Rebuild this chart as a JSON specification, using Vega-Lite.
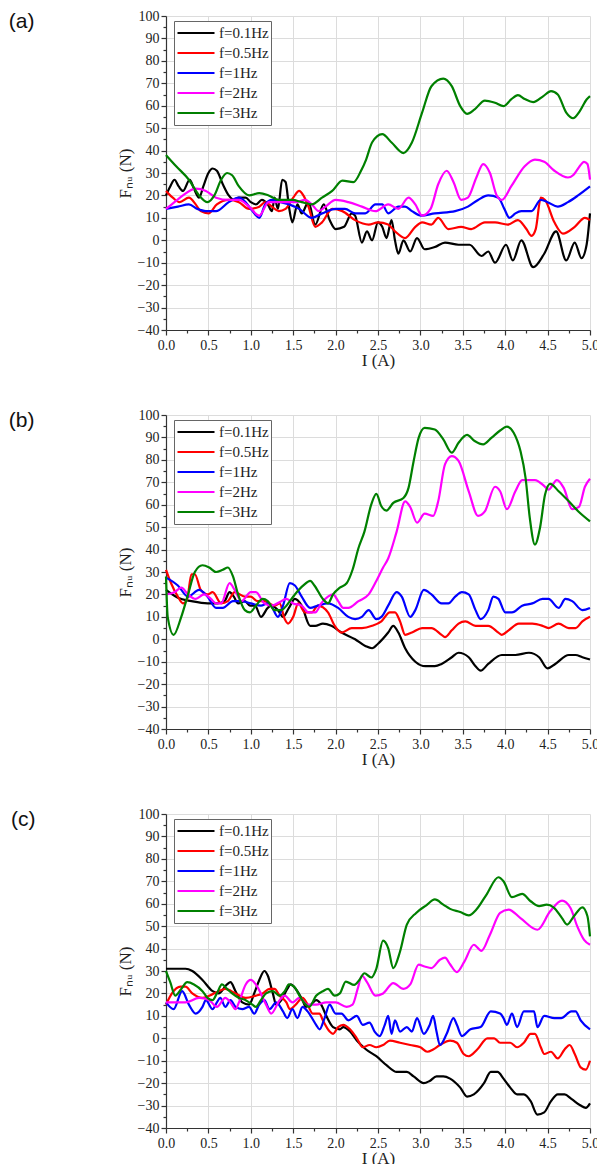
{
"$schema": "https://vega.github.io/schema/vega-lite/v6.json",
"background": "white",
"padding": {"left": 8, "top": 9, "right": 5, "bottom": 3},
"spacing": 40,
"config": {
  "view": {"stroke": null},
  "line": {"strokeWidth": 2.2, "interpolate": "monotone"},
  "axis": {"domainColor": "#333", "tickColor": "#333", "labelColor": "#222", "titleColor": "#222", "labelFont": "Liberation Serif", "titleFont": "Liberation Serif", "labelFontSize": 14, "titleFontSize": 17, "titleFontWeight": "normal", "gridColor": "#dcdcdc", "gridWidth": 1, "domainWidth": 1.2, "tickWidth": 1.2, "labelOverlap": false, "labelFlush": false},
  "legend": {"orient": "none", "legendX": 8, "legendY": 5, "symbolType": "stroke", "symbolSize": 1369, "symbolStrokeWidth": 2, "clipHeight": 20, "labelFont": "Liberation Serif", "labelFontSize": 15, "labelColor": "#222", "labelOffset": 3, "strokeColor": "#666", "padding": 2, "fillColor": "white", "rowPadding": 0, "labelLimit": 200},
  "title": {"font": "Liberation Sans", "fontSize": 21, "fontWeight": "normal", "color": "#111"}
},
"resolve": {"scale": {"color": "independent"}, "legend": {"color": "independent"}},
"datasets": {
"a": [
{"freq":"f=0.1Hz","I":0,"F":20},{"freq":"f=0.1Hz","I":0.05,"F":24},{"freq":"f=0.1Hz","I":0.1,"F":27},{"freq":"f=0.1Hz","I":0.15,"F":24},{"freq":"f=0.1Hz","I":0.2,"F":22},{"freq":"f=0.1Hz","I":0.28,"F":27},{"freq":"f=0.1Hz","I":0.33,"F":23},{"freq":"f=0.1Hz","I":0.39,"F":19},{"freq":"f=0.1Hz","I":0.44,"F":24},{"freq":"f=0.1Hz","I":0.5,"F":30},{"freq":"f=0.1Hz","I":0.55,"F":32},{"freq":"f=0.1Hz","I":0.6,"F":31},{"freq":"f=0.1Hz","I":0.67,"F":25},{"freq":"f=0.1Hz","I":0.74,"F":20},{"freq":"f=0.1Hz","I":0.8,"F":18},{"freq":"f=0.1Hz","I":0.86,"F":19},{"freq":"f=0.1Hz","I":0.94,"F":19},{"freq":"f=0.1Hz","I":1.0,"F":17},{"freq":"f=0.1Hz","I":1.06,"F":16},{"freq":"f=0.1Hz","I":1.13,"F":18},{"freq":"f=0.1Hz","I":1.2,"F":16},{"freq":"f=0.1Hz","I":1.25,"F":13},{"freq":"f=0.1Hz","I":1.28,"F":19},{"freq":"f=0.1Hz","I":1.32,"F":14},{"freq":"f=0.1Hz","I":1.37,"F":27},{"freq":"f=0.1Hz","I":1.41,"F":26},{"freq":"f=0.1Hz","I":1.45,"F":15},{"freq":"f=0.1Hz","I":1.49,"F":8},{"freq":"f=0.1Hz","I":1.55,"F":16},{"freq":"f=0.1Hz","I":1.6,"F":12},{"freq":"f=0.1Hz","I":1.68,"F":17},{"freq":"f=0.1Hz","I":1.76,"F":7},{"freq":"f=0.1Hz","I":1.86,"F":16},{"freq":"f=0.1Hz","I":1.93,"F":9},{"freq":"f=0.1Hz","I":2.0,"F":5},{"freq":"f=0.1Hz","I":2.1,"F":6},{"freq":"f=0.1Hz","I":2.19,"F":12},{"freq":"f=0.1Hz","I":2.23,"F":11},{"freq":"f=0.1Hz","I":2.31,"F":-1},{"freq":"f=0.1Hz","I":2.37,"F":4},{"freq":"f=0.1Hz","I":2.43,"F":0},{"freq":"f=0.1Hz","I":2.5,"F":8},{"freq":"f=0.1Hz","I":2.55,"F":6},{"freq":"f=0.1Hz","I":2.6,"F":1},{"freq":"f=0.1Hz","I":2.66,"F":9},{"freq":"f=0.1Hz","I":2.7,"F":0},{"freq":"f=0.1Hz","I":2.74,"F":-6},{"freq":"f=0.1Hz","I":2.8,"F":0},{"freq":"f=0.1Hz","I":2.88,"F":-5},{"freq":"f=0.1Hz","I":2.96,"F":1},{"freq":"f=0.1Hz","I":3.05,"F":-4},{"freq":"f=0.1Hz","I":3.17,"F":-3},{"freq":"f=0.1Hz","I":3.29,"F":-1},{"freq":"f=0.1Hz","I":3.45,"F":-2},{"freq":"f=0.1Hz","I":3.58,"F":-2},{"freq":"f=0.1Hz","I":3.72,"F":-7},{"freq":"f=0.1Hz","I":3.8,"F":-5},{"freq":"f=0.1Hz","I":3.88,"F":-10},{"freq":"f=0.1Hz","I":4.01,"F":-2},{"freq":"f=0.1Hz","I":4.09,"F":-9},{"freq":"f=0.1Hz","I":4.19,"F":0},{"freq":"f=0.1Hz","I":4.33,"F":-12},{"freq":"f=0.1Hz","I":4.46,"F":-6},{"freq":"f=0.1Hz","I":4.6,"F":4},{"freq":"f=0.1Hz","I":4.72,"F":-9},{"freq":"f=0.1Hz","I":4.82,"F":-1},{"freq":"f=0.1Hz","I":4.9,"F":-8},{"freq":"f=0.1Hz","I":4.96,"F":-2},{"freq":"f=0.1Hz","I":5.0,"F":12},
{"freq":"f=0.5Hz","I":0,"F":22},{"freq":"f=0.5Hz","I":0.08,"F":19},{"freq":"f=0.5Hz","I":0.16,"F":17},{"freq":"f=0.5Hz","I":0.27,"F":19},{"freq":"f=0.5Hz","I":0.35,"F":16},{"freq":"f=0.5Hz","I":0.41,"F":13},{"freq":"f=0.5Hz","I":0.5,"F":12},{"freq":"f=0.5Hz","I":0.6,"F":16},{"freq":"f=0.5Hz","I":0.74,"F":18},{"freq":"f=0.5Hz","I":0.86,"F":17},{"freq":"f=0.5Hz","I":0.98,"F":14},{"freq":"f=0.5Hz","I":1.1,"F":15},{"freq":"f=0.5Hz","I":1.17,"F":17},{"freq":"f=0.5Hz","I":1.25,"F":15},{"freq":"f=0.5Hz","I":1.33,"F":13},{"freq":"f=0.5Hz","I":1.41,"F":14},{"freq":"f=0.5Hz","I":1.5,"F":19},{"freq":"f=0.5Hz","I":1.57,"F":22},{"freq":"f=0.5Hz","I":1.62,"F":20},{"freq":"f=0.5Hz","I":1.68,"F":15},{"freq":"f=0.5Hz","I":1.76,"F":6},{"freq":"f=0.5Hz","I":1.84,"F":8},{"freq":"f=0.5Hz","I":1.96,"F":14},{"freq":"f=0.5Hz","I":2.08,"F":13},{"freq":"f=0.5Hz","I":2.23,"F":9},{"freq":"f=0.5Hz","I":2.39,"F":7},{"freq":"f=0.5Hz","I":2.5,"F":8},{"freq":"f=0.5Hz","I":2.62,"F":7},{"freq":"f=0.5Hz","I":2.7,"F":4},{"freq":"f=0.5Hz","I":2.82,"F":1},{"freq":"f=0.5Hz","I":2.94,"F":6},{"freq":"f=0.5Hz","I":3.02,"F":8},{"freq":"f=0.5Hz","I":3.13,"F":7},{"freq":"f=0.5Hz","I":3.21,"F":10},{"freq":"f=0.5Hz","I":3.33,"F":5},{"freq":"f=0.5Hz","I":3.48,"F":6},{"freq":"f=0.5Hz","I":3.6,"F":5},{"freq":"f=0.5Hz","I":3.76,"F":8},{"freq":"f=0.5Hz","I":3.88,"F":8},{"freq":"f=0.5Hz","I":4.03,"F":7},{"freq":"f=0.5Hz","I":4.15,"F":9},{"freq":"f=0.5Hz","I":4.25,"F":5},{"freq":"f=0.5Hz","I":4.31,"F":2},{"freq":"f=0.5Hz","I":4.36,"F":5},{"freq":"f=0.5Hz","I":4.42,"F":19},{"freq":"f=0.5Hz","I":4.47,"F":18},{"freq":"f=0.5Hz","I":4.58,"F":8},{"freq":"f=0.5Hz","I":4.68,"F":3},{"freq":"f=0.5Hz","I":4.82,"F":6},{"freq":"f=0.5Hz","I":4.94,"F":10},{"freq":"f=0.5Hz","I":5.0,"F":9},
{"freq":"f=1Hz","I":0,"F":14},{"freq":"f=1Hz","I":0.14,"F":15},{"freq":"f=1Hz","I":0.27,"F":16},{"freq":"f=1Hz","I":0.37,"F":14},{"freq":"f=1Hz","I":0.47,"F":13},{"freq":"f=1Hz","I":0.59,"F":13},{"freq":"f=1Hz","I":0.74,"F":17},{"freq":"f=1Hz","I":0.86,"F":19},{"freq":"f=1Hz","I":0.94,"F":17},{"freq":"f=1Hz","I":1.02,"F":13},{"freq":"f=1Hz","I":1.1,"F":10},{"freq":"f=1Hz","I":1.17,"F":16},{"freq":"f=1Hz","I":1.25,"F":18},{"freq":"f=1Hz","I":1.35,"F":17},{"freq":"f=1Hz","I":1.45,"F":16},{"freq":"f=1Hz","I":1.57,"F":14},{"freq":"f=1Hz","I":1.72,"F":10},{"freq":"f=1Hz","I":1.84,"F":12},{"freq":"f=1Hz","I":2.0,"F":14},{"freq":"f=1Hz","I":2.11,"F":14},{"freq":"f=1Hz","I":2.23,"F":12},{"freq":"f=1Hz","I":2.35,"F":12},{"freq":"f=1Hz","I":2.47,"F":16},{"freq":"f=1Hz","I":2.55,"F":16},{"freq":"f=1Hz","I":2.62,"F":12},{"freq":"f=1Hz","I":2.74,"F":15},{"freq":"f=1Hz","I":2.82,"F":15},{"freq":"f=1Hz","I":2.9,"F":13},{"freq":"f=1Hz","I":3.01,"F":11},{"freq":"f=1Hz","I":3.17,"F":12},{"freq":"f=1Hz","I":3.41,"F":13},{"freq":"f=1Hz","I":3.56,"F":15},{"freq":"f=1Hz","I":3.68,"F":18},{"freq":"f=1Hz","I":3.8,"F":20},{"freq":"f=1Hz","I":3.92,"F":19},{"freq":"f=1Hz","I":3.99,"F":14},{"freq":"f=1Hz","I":4.05,"F":10},{"freq":"f=1Hz","I":4.12,"F":12},{"freq":"f=1Hz","I":4.19,"F":13},{"freq":"f=1Hz","I":4.31,"F":13},{"freq":"f=1Hz","I":4.42,"F":18},{"freq":"f=1Hz","I":4.5,"F":17},{"freq":"f=1Hz","I":4.62,"F":15},{"freq":"f=1Hz","I":4.74,"F":17},{"freq":"f=1Hz","I":4.86,"F":20},{"freq":"f=1Hz","I":5.0,"F":24},
{"freq":"f=2Hz","I":0,"F":14},{"freq":"f=2Hz","I":0.1,"F":17},{"freq":"f=2Hz","I":0.2,"F":20},{"freq":"f=2Hz","I":0.35,"F":23},{"freq":"f=2Hz","I":0.47,"F":22},{"freq":"f=2Hz","I":0.59,"F":19},{"freq":"f=2Hz","I":0.74,"F":18},{"freq":"f=2Hz","I":0.86,"F":18},{"freq":"f=2Hz","I":0.98,"F":15},{"freq":"f=2Hz","I":1.1,"F":11},{"freq":"f=2Hz","I":1.21,"F":17},{"freq":"f=2Hz","I":1.37,"F":17},{"freq":"f=2Hz","I":1.53,"F":17},{"freq":"f=2Hz","I":1.64,"F":18},{"freq":"f=2Hz","I":1.72,"F":16},{"freq":"f=2Hz","I":1.8,"F":13},{"freq":"f=2Hz","I":1.88,"F":15},{"freq":"f=2Hz","I":2.0,"F":18},{"freq":"f=2Hz","I":2.15,"F":17},{"freq":"f=2Hz","I":2.31,"F":15},{"freq":"f=2Hz","I":2.47,"F":13},{"freq":"f=2Hz","I":2.62,"F":16},{"freq":"f=2Hz","I":2.74,"F":14},{"freq":"f=2Hz","I":2.86,"F":19},{"freq":"f=2Hz","I":2.94,"F":16},{"freq":"f=2Hz","I":3.02,"F":11},{"freq":"f=2Hz","I":3.12,"F":14},{"freq":"f=2Hz","I":3.21,"F":25},{"freq":"f=2Hz","I":3.31,"F":31},{"freq":"f=2Hz","I":3.39,"F":26},{"freq":"f=2Hz","I":3.48,"F":18},{"freq":"f=2Hz","I":3.56,"F":19},{"freq":"f=2Hz","I":3.66,"F":28},{"freq":"f=2Hz","I":3.74,"F":34},{"freq":"f=2Hz","I":3.82,"F":30},{"freq":"f=2Hz","I":3.9,"F":20},{"freq":"f=2Hz","I":3.96,"F":18},{"freq":"f=2Hz","I":4.07,"F":24},{"freq":"f=2Hz","I":4.23,"F":33},{"freq":"f=2Hz","I":4.35,"F":36},{"freq":"f=2Hz","I":4.46,"F":35},{"freq":"f=2Hz","I":4.58,"F":31},{"freq":"f=2Hz","I":4.74,"F":28},{"freq":"f=2Hz","I":4.8,"F":29},{"freq":"f=2Hz","I":4.86,"F":32},{"freq":"f=2Hz","I":4.93,"F":35},{"freq":"f=2Hz","I":4.97,"F":34},{"freq":"f=2Hz","I":5.0,"F":27},
{"freq":"f=3Hz","I":0,"F":38},{"freq":"f=3Hz","I":0.12,"F":33},{"freq":"f=3Hz","I":0.27,"F":27},{"freq":"f=3Hz","I":0.39,"F":20},{"freq":"f=3Hz","I":0.49,"F":17},{"freq":"f=3Hz","I":0.57,"F":20},{"freq":"f=3Hz","I":0.65,"F":27},{"freq":"f=3Hz","I":0.72,"F":30},{"freq":"f=3Hz","I":0.78,"F":29},{"freq":"f=3Hz","I":0.86,"F":24},{"freq":"f=3Hz","I":0.98,"F":20},{"freq":"f=3Hz","I":1.1,"F":21},{"freq":"f=3Hz","I":1.21,"F":20},{"freq":"f=3Hz","I":1.33,"F":18},{"freq":"f=3Hz","I":1.49,"F":18},{"freq":"f=3Hz","I":1.6,"F":17},{"freq":"f=3Hz","I":1.72,"F":16},{"freq":"f=3Hz","I":1.84,"F":19},{"freq":"f=3Hz","I":1.96,"F":22},{"freq":"f=3Hz","I":2.08,"F":26.6},{"freq":"f=3Hz","I":2.21,"F":25.9},{"freq":"f=3Hz","I":2.3,"F":31},{"freq":"f=3Hz","I":2.36,"F":36},{"freq":"f=3Hz","I":2.43,"F":43.6},{"freq":"f=3Hz","I":2.55,"F":47.3},{"freq":"f=3Hz","I":2.66,"F":43.6},{"freq":"f=3Hz","I":2.8,"F":38.9},{"freq":"f=3Hz","I":2.9,"F":43.6},{"freq":"f=3Hz","I":3.02,"F":56.9},{"freq":"f=3Hz","I":3.13,"F":68.7},{"freq":"f=3Hz","I":3.27,"F":72.1},{"freq":"f=3Hz","I":3.37,"F":68.7},{"freq":"f=3Hz","I":3.47,"F":59.8},{"freq":"f=3Hz","I":3.55,"F":56.4},{"freq":"f=3Hz","I":3.64,"F":58.4},{"freq":"f=3Hz","I":3.76,"F":62.3},{"freq":"f=3Hz","I":3.88,"F":61.3},{"freq":"f=3Hz","I":3.98,"F":59.8},{"freq":"f=3Hz","I":4.07,"F":62.8},{"freq":"f=3Hz","I":4.15,"F":64.7},{"freq":"f=3Hz","I":4.23,"F":63},{"freq":"f=3Hz","I":4.33,"F":61.6},{"freq":"f=3Hz","I":4.45,"F":64.3},{"freq":"f=3Hz","I":4.54,"F":66.5},{"freq":"f=3Hz","I":4.62,"F":65},{"freq":"f=3Hz","I":4.72,"F":56.9},{"freq":"f=3Hz","I":4.8,"F":54.4},{"freq":"f=3Hz","I":4.88,"F":57.6},{"freq":"f=3Hz","I":4.96,"F":62.8},{"freq":"f=3Hz","I":5.0,"F":64.3}
],
"b": [
{"freq":"f=0.1Hz","I":0,"F":22},{"freq":"f=0.1Hz","I":0.14,"F":18.5},{"freq":"f=0.1Hz","I":0.3,"F":17},{"freq":"f=0.1Hz","I":0.49,"F":16},{"freq":"f=0.1Hz","I":0.61,"F":16},{"freq":"f=0.1Hz","I":0.69,"F":17},{"freq":"f=0.1Hz","I":0.75,"F":21},{"freq":"f=0.1Hz","I":0.8,"F":19},{"freq":"f=0.1Hz","I":0.85,"F":16},{"freq":"f=0.1Hz","I":0.93,"F":17},{"freq":"f=0.1Hz","I":0.99,"F":15},{"freq":"f=0.1Hz","I":1.05,"F":15},{"freq":"f=0.1Hz","I":1.12,"F":10},{"freq":"f=0.1Hz","I":1.2,"F":14},{"freq":"f=0.1Hz","I":1.24,"F":15},{"freq":"f=0.1Hz","I":1.32,"F":13},{"freq":"f=0.1Hz","I":1.38,"F":10},{"freq":"f=0.1Hz","I":1.45,"F":14},{"freq":"f=0.1Hz","I":1.52,"F":18},{"freq":"f=0.1Hz","I":1.6,"F":15},{"freq":"f=0.1Hz","I":1.7,"F":6},{"freq":"f=0.1Hz","I":1.76,"F":6},{"freq":"f=0.1Hz","I":1.85,"F":7},{"freq":"f=0.1Hz","I":1.95,"F":6},{"freq":"f=0.1Hz","I":2.07,"F":3},{"freq":"f=0.1Hz","I":2.23,"F":0},{"freq":"f=0.1Hz","I":2.35,"F":-3},{"freq":"f=0.1Hz","I":2.43,"F":-4},{"freq":"f=0.1Hz","I":2.5,"F":-2},{"freq":"f=0.1Hz","I":2.62,"F":3},{"freq":"f=0.1Hz","I":2.68,"F":6},{"freq":"f=0.1Hz","I":2.74,"F":3},{"freq":"f=0.1Hz","I":2.82,"F":-4},{"freq":"f=0.1Hz","I":2.94,"F":-10},{"freq":"f=0.1Hz","I":3.06,"F":-12},{"freq":"f=0.1Hz","I":3.17,"F":-12},{"freq":"f=0.1Hz","I":3.25,"F":-11},{"freq":"f=0.1Hz","I":3.37,"F":-8},{"freq":"f=0.1Hz","I":3.45,"F":-6},{"freq":"f=0.1Hz","I":3.57,"F":-8},{"freq":"f=0.1Hz","I":3.65,"F":-12},{"freq":"f=0.1Hz","I":3.71,"F":-14},{"freq":"f=0.1Hz","I":3.8,"F":-11},{"freq":"f=0.1Hz","I":3.96,"F":-7},{"freq":"f=0.1Hz","I":4.12,"F":-7},{"freq":"f=0.1Hz","I":4.28,"F":-6},{"freq":"f=0.1Hz","I":4.4,"F":-8},{"freq":"f=0.1Hz","I":4.5,"F":-13},{"freq":"f=0.1Hz","I":4.59,"F":-11},{"freq":"f=0.1Hz","I":4.75,"F":-7},{"freq":"f=0.1Hz","I":4.83,"F":-7},{"freq":"f=0.1Hz","I":4.91,"F":-8},{"freq":"f=0.1Hz","I":5.0,"F":-9},
{"freq":"f=0.5Hz","I":0,"F":31},{"freq":"f=0.5Hz","I":0.06,"F":25},{"freq":"f=0.5Hz","I":0.14,"F":19},{"freq":"f=0.5Hz","I":0.2,"F":16},{"freq":"f=0.5Hz","I":0.25,"F":18},{"freq":"f=0.5Hz","I":0.3,"F":29},{"freq":"f=0.5Hz","I":0.34,"F":29},{"freq":"f=0.5Hz","I":0.41,"F":22},{"freq":"f=0.5Hz","I":0.49,"F":20},{"freq":"f=0.5Hz","I":0.55,"F":21},{"freq":"f=0.5Hz","I":0.65,"F":16},{"freq":"f=0.5Hz","I":0.73,"F":17},{"freq":"f=0.5Hz","I":0.81,"F":21},{"freq":"f=0.5Hz","I":0.93,"F":19},{"freq":"f=0.5Hz","I":1.0,"F":19},{"freq":"f=0.5Hz","I":1.08,"F":17},{"freq":"f=0.5Hz","I":1.16,"F":17},{"freq":"f=0.5Hz","I":1.28,"F":15},{"freq":"f=0.5Hz","I":1.34,"F":16},{"freq":"f=0.5Hz","I":1.4,"F":9},{"freq":"f=0.5Hz","I":1.44,"F":7},{"freq":"f=0.5Hz","I":1.5,"F":10},{"freq":"f=0.5Hz","I":1.56,"F":16},{"freq":"f=0.5Hz","I":1.64,"F":12},{"freq":"f=0.5Hz","I":1.72,"F":12},{"freq":"f=0.5Hz","I":1.79,"F":15},{"freq":"f=0.5Hz","I":1.91,"F":12},{"freq":"f=0.5Hz","I":1.99,"F":6},{"freq":"f=0.5Hz","I":2.07,"F":3},{"freq":"f=0.5Hz","I":2.19,"F":5},{"freq":"f=0.5Hz","I":2.31,"F":5},{"freq":"f=0.5Hz","I":2.43,"F":6},{"freq":"f=0.5Hz","I":2.54,"F":8},{"freq":"f=0.5Hz","I":2.64,"F":12},{"freq":"f=0.5Hz","I":2.7,"F":12},{"freq":"f=0.5Hz","I":2.76,"F":8},{"freq":"f=0.5Hz","I":2.82,"F":2},{"freq":"f=0.5Hz","I":2.9,"F":3},{"freq":"f=0.5Hz","I":3.02,"F":5},{"freq":"f=0.5Hz","I":3.13,"F":5},{"freq":"f=0.5Hz","I":3.25,"F":2},{"freq":"f=0.5Hz","I":3.29,"F":1},{"freq":"f=0.5Hz","I":3.37,"F":4},{"freq":"f=0.5Hz","I":3.45,"F":7},{"freq":"f=0.5Hz","I":3.53,"F":8},{"freq":"f=0.5Hz","I":3.65,"F":6},{"freq":"f=0.5Hz","I":3.8,"F":6},{"freq":"f=0.5Hz","I":3.92,"F":3},{"freq":"f=0.5Hz","I":3.96,"F":2},{"freq":"f=0.5Hz","I":4.04,"F":4},{"freq":"f=0.5Hz","I":4.16,"F":7},{"freq":"f=0.5Hz","I":4.32,"F":7},{"freq":"f=0.5Hz","I":4.44,"F":6},{"freq":"f=0.5Hz","I":4.51,"F":5},{"freq":"f=0.5Hz","I":4.63,"F":7},{"freq":"f=0.5Hz","I":4.75,"F":5},{"freq":"f=0.5Hz","I":4.83,"F":5},{"freq":"f=0.5Hz","I":4.91,"F":8},{"freq":"f=0.5Hz","I":5.0,"F":10},
{"freq":"f=1Hz","I":0,"F":27.5},{"freq":"f=1Hz","I":0.14,"F":24},{"freq":"f=1Hz","I":0.26,"F":19},{"freq":"f=1Hz","I":0.39,"F":22},{"freq":"f=1Hz","I":0.49,"F":19},{"freq":"f=1Hz","I":0.59,"F":14},{"freq":"f=1Hz","I":0.67,"F":14},{"freq":"f=1Hz","I":0.79,"F":17},{"freq":"f=1Hz","I":0.89,"F":17},{"freq":"f=1Hz","I":1.0,"F":16},{"freq":"f=1Hz","I":1.12,"F":15},{"freq":"f=1Hz","I":1.2,"F":16},{"freq":"f=1Hz","I":1.24,"F":15},{"freq":"f=1Hz","I":1.32,"F":10},{"freq":"f=1Hz","I":1.38,"F":15},{"freq":"f=1Hz","I":1.46,"F":25},{"freq":"f=1Hz","I":1.52,"F":24},{"freq":"f=1Hz","I":1.6,"F":19},{"freq":"f=1Hz","I":1.7,"F":14},{"freq":"f=1Hz","I":1.79,"F":15},{"freq":"f=1Hz","I":1.91,"F":16},{"freq":"f=1Hz","I":2.03,"F":14},{"freq":"f=1Hz","I":2.15,"F":10},{"freq":"f=1Hz","I":2.23,"F":9},{"freq":"f=1Hz","I":2.31,"F":10},{"freq":"f=1Hz","I":2.39,"F":13},{"freq":"f=1Hz","I":2.48,"F":9},{"freq":"f=1Hz","I":2.54,"F":10},{"freq":"f=1Hz","I":2.62,"F":15},{"freq":"f=1Hz","I":2.72,"F":21},{"freq":"f=1Hz","I":2.78,"F":19},{"freq":"f=1Hz","I":2.88,"F":10},{"freq":"f=1Hz","I":2.94,"F":13},{"freq":"f=1Hz","I":3.04,"F":22},{"freq":"f=1Hz","I":3.13,"F":20},{"freq":"f=1Hz","I":3.25,"F":16},{"freq":"f=1Hz","I":3.33,"F":16},{"freq":"f=1Hz","I":3.41,"F":19},{"freq":"f=1Hz","I":3.49,"F":21},{"freq":"f=1Hz","I":3.57,"F":20},{"freq":"f=1Hz","I":3.65,"F":13},{"freq":"f=1Hz","I":3.71,"F":9},{"freq":"f=1Hz","I":3.8,"F":13},{"freq":"f=1Hz","I":3.86,"F":19},{"freq":"f=1Hz","I":3.92,"F":18},{"freq":"f=1Hz","I":4.0,"F":12},{"freq":"f=1Hz","I":4.08,"F":12},{"freq":"f=1Hz","I":4.2,"F":15},{"freq":"f=1Hz","I":4.32,"F":16},{"freq":"f=1Hz","I":4.44,"F":18},{"freq":"f=1Hz","I":4.51,"F":18},{"freq":"f=1Hz","I":4.63,"F":14},{"freq":"f=1Hz","I":4.71,"F":18},{"freq":"f=1Hz","I":4.79,"F":17},{"freq":"f=1Hz","I":4.91,"F":13},{"freq":"f=1Hz","I":5.0,"F":14},
{"freq":"f=2Hz","I":0,"F":20},{"freq":"f=2Hz","I":0.1,"F":21},{"freq":"f=2Hz","I":0.18,"F":23},{"freq":"f=2Hz","I":0.26,"F":20},{"freq":"f=2Hz","I":0.35,"F":18},{"freq":"f=2Hz","I":0.45,"F":20},{"freq":"f=2Hz","I":0.53,"F":18},{"freq":"f=2Hz","I":0.59,"F":16},{"freq":"f=2Hz","I":0.65,"F":16},{"freq":"f=2Hz","I":0.75,"F":25},{"freq":"f=2Hz","I":0.81,"F":22},{"freq":"f=2Hz","I":0.89,"F":17},{"freq":"f=2Hz","I":1.0,"F":21},{"freq":"f=2Hz","I":1.06,"F":21},{"freq":"f=2Hz","I":1.16,"F":16},{"freq":"f=2Hz","I":1.24,"F":15},{"freq":"f=2Hz","I":1.36,"F":17},{"freq":"f=2Hz","I":1.42,"F":18},{"freq":"f=2Hz","I":1.5,"F":16},{"freq":"f=2Hz","I":1.6,"F":15},{"freq":"f=2Hz","I":1.68,"F":12},{"freq":"f=2Hz","I":1.76,"F":12},{"freq":"f=2Hz","I":1.83,"F":16},{"freq":"f=2Hz","I":1.91,"F":19},{"freq":"f=2Hz","I":1.97,"F":20},{"freq":"f=2Hz","I":2.03,"F":17},{"freq":"f=2Hz","I":2.09,"F":14},{"freq":"f=2Hz","I":2.15,"F":14},{"freq":"f=2Hz","I":2.27,"F":17},{"freq":"f=2Hz","I":2.39,"F":20},{"freq":"f=2Hz","I":2.48,"F":26},{"freq":"f=2Hz","I":2.56,"F":32},{"freq":"f=2Hz","I":2.62,"F":36},{"freq":"f=2Hz","I":2.72,"F":48},{"freq":"f=2Hz","I":2.82,"F":61.5},{"freq":"f=2Hz","I":2.88,"F":59},{"freq":"f=2Hz","I":2.96,"F":52},{"freq":"f=2Hz","I":3.05,"F":56},{"freq":"f=2Hz","I":3.15,"F":55},{"freq":"f=2Hz","I":3.21,"F":61.5},{"freq":"f=2Hz","I":3.29,"F":78},{"freq":"f=2Hz","I":3.37,"F":81.7},{"freq":"f=2Hz","I":3.45,"F":79.5},{"freq":"f=2Hz","I":3.57,"F":66},{"freq":"f=2Hz","I":3.68,"F":55},{"freq":"f=2Hz","I":3.76,"F":57},{"freq":"f=2Hz","I":3.88,"F":68},{"freq":"f=2Hz","I":3.94,"F":66},{"freq":"f=2Hz","I":4.02,"F":58},{"freq":"f=2Hz","I":4.12,"F":66},{"freq":"f=2Hz","I":4.2,"F":71},{"freq":"f=2Hz","I":4.35,"F":71},{"freq":"f=2Hz","I":4.47,"F":68},{"freq":"f=2Hz","I":4.51,"F":66.7},{"freq":"f=2Hz","I":4.61,"F":71},{"freq":"f=2Hz","I":4.69,"F":67.5},{"freq":"f=2Hz","I":4.79,"F":58},{"freq":"f=2Hz","I":4.87,"F":59},{"freq":"f=2Hz","I":4.94,"F":68},{"freq":"f=2Hz","I":5.0,"F":71.6},
{"freq":"f=3Hz","I":0,"F":28},{"freq":"f=3Hz","I":0.02,"F":10},{"freq":"f=3Hz","I":0.09,"F":2},{"freq":"f=3Hz","I":0.18,"F":10},{"freq":"f=3Hz","I":0.26,"F":20},{"freq":"f=3Hz","I":0.34,"F":30},{"freq":"f=3Hz","I":0.43,"F":33},{"freq":"f=3Hz","I":0.51,"F":32},{"freq":"f=3Hz","I":0.59,"F":30},{"freq":"f=3Hz","I":0.67,"F":31},{"freq":"f=3Hz","I":0.73,"F":32},{"freq":"f=3Hz","I":0.79,"F":28},{"freq":"f=3Hz","I":0.85,"F":20},{"freq":"f=3Hz","I":0.93,"F":13},{"freq":"f=3Hz","I":0.99,"F":12},{"freq":"f=3Hz","I":1.06,"F":15},{"freq":"f=3Hz","I":1.14,"F":18},{"freq":"f=3Hz","I":1.2,"F":17},{"freq":"f=3Hz","I":1.28,"F":13},{"freq":"f=3Hz","I":1.36,"F":13},{"freq":"f=3Hz","I":1.42,"F":15},{"freq":"f=3Hz","I":1.52,"F":20},{"freq":"f=3Hz","I":1.62,"F":24},{"freq":"f=3Hz","I":1.7,"F":26},{"freq":"f=3Hz","I":1.75,"F":24},{"freq":"f=3Hz","I":1.85,"F":18},{"freq":"f=3Hz","I":1.91,"F":16},{"freq":"f=3Hz","I":1.97,"F":20},{"freq":"f=3Hz","I":2.05,"F":23},{"freq":"f=3Hz","I":2.13,"F":25},{"freq":"f=3Hz","I":2.2,"F":31},{"freq":"f=3Hz","I":2.27,"F":40.7},{"freq":"f=3Hz","I":2.34,"F":48},{"freq":"f=3Hz","I":2.42,"F":60},{"freq":"f=3Hz","I":2.48,"F":64.8},{"freq":"f=3Hz","I":2.54,"F":59.3},{"freq":"f=3Hz","I":2.6,"F":57.4},{"freq":"f=3Hz","I":2.68,"F":60.8},{"freq":"f=3Hz","I":2.8,"F":63},{"freq":"f=3Hz","I":2.86,"F":67.5},{"freq":"f=3Hz","I":2.92,"F":79.4},{"freq":"f=3Hz","I":2.98,"F":89.9},{"freq":"f=3Hz","I":3.05,"F":94.3},{"freq":"f=3Hz","I":3.17,"F":93.5},{"freq":"f=3Hz","I":3.27,"F":89.1},{"freq":"f=3Hz","I":3.37,"F":83.2},{"freq":"f=3Hz","I":3.45,"F":87.6},{"freq":"f=3Hz","I":3.55,"F":91.1},{"freq":"f=3Hz","I":3.64,"F":88.4},{"freq":"f=3Hz","I":3.74,"F":86.9},{"freq":"f=3Hz","I":3.84,"F":89.9},{"freq":"f=3Hz","I":3.94,"F":93.1},{"freq":"f=3Hz","I":4.02,"F":94.8},{"freq":"f=3Hz","I":4.1,"F":92.1},{"freq":"f=3Hz","I":4.18,"F":83.9},{"freq":"f=3Hz","I":4.24,"F":72},{"freq":"f=3Hz","I":4.29,"F":54.1},{"freq":"f=3Hz","I":4.35,"F":42.2},{"freq":"f=3Hz","I":4.41,"F":49.6},{"freq":"f=3Hz","I":4.47,"F":64.5},{"freq":"f=3Hz","I":4.53,"F":69.3},{"freq":"f=3Hz","I":4.63,"F":66},{"freq":"f=3Hz","I":4.75,"F":61.5},{"freq":"f=3Hz","I":4.86,"F":57.1},{"freq":"f=3Hz","I":5.0,"F":52.6}
],
"c": [
{"freq":"f=0.1Hz","I":0,"F":31},{"freq":"f=0.1Hz","I":0.12,"F":31},{"freq":"f=0.1Hz","I":0.23,"F":31},{"freq":"f=0.1Hz","I":0.31,"F":30},{"freq":"f=0.1Hz","I":0.43,"F":26},{"freq":"f=0.1Hz","I":0.55,"F":21},{"freq":"f=0.1Hz","I":0.62,"F":20},{"freq":"f=0.1Hz","I":0.72,"F":24},{"freq":"f=0.1Hz","I":0.76,"F":25},{"freq":"f=0.1Hz","I":0.82,"F":21},{"freq":"f=0.1Hz","I":0.9,"F":16},{"freq":"f=0.1Hz","I":0.98,"F":15},{"freq":"f=0.1Hz","I":1.04,"F":20},{"freq":"f=0.1Hz","I":1.1,"F":26},{"freq":"f=0.1Hz","I":1.16,"F":30},{"freq":"f=0.1Hz","I":1.2,"F":28},{"freq":"f=0.1Hz","I":1.26,"F":20},{"freq":"f=0.1Hz","I":1.3,"F":15},{"freq":"f=0.1Hz","I":1.36,"F":17},{"freq":"f=0.1Hz","I":1.43,"F":22},{"freq":"f=0.1Hz","I":1.47,"F":24},{"freq":"f=0.1Hz","I":1.53,"F":22},{"freq":"f=0.1Hz","I":1.61,"F":17},{"freq":"f=0.1Hz","I":1.65,"F":14},{"freq":"f=0.1Hz","I":1.71,"F":15},{"freq":"f=0.1Hz","I":1.77,"F":17},{"freq":"f=0.1Hz","I":1.83,"F":15},{"freq":"f=0.1Hz","I":1.89,"F":10},{"freq":"f=0.1Hz","I":1.97,"F":5},{"freq":"f=0.1Hz","I":2.05,"F":4},{"freq":"f=0.1Hz","I":2.09,"F":5},{"freq":"f=0.1Hz","I":2.17,"F":3},{"freq":"f=0.1Hz","I":2.25,"F":-1},{"freq":"f=0.1Hz","I":2.36,"F":-5},{"freq":"f=0.1Hz","I":2.48,"F":-8},{"freq":"f=0.1Hz","I":2.6,"F":-12},{"freq":"f=0.1Hz","I":2.72,"F":-15},{"freq":"f=0.1Hz","I":2.84,"F":-15},{"freq":"f=0.1Hz","I":2.92,"F":-17},{"freq":"f=0.1Hz","I":3.04,"F":-20},{"freq":"f=0.1Hz","I":3.11,"F":-19},{"freq":"f=0.1Hz","I":3.19,"F":-17},{"freq":"f=0.1Hz","I":3.27,"F":-17},{"freq":"f=0.1Hz","I":3.35,"F":-18},{"freq":"f=0.1Hz","I":3.47,"F":-22},{"freq":"f=0.1Hz","I":3.55,"F":-26},{"freq":"f=0.1Hz","I":3.63,"F":-25},{"freq":"f=0.1Hz","I":3.75,"F":-20},{"freq":"f=0.1Hz","I":3.83,"F":-15},{"freq":"f=0.1Hz","I":3.91,"F":-15},{"freq":"f=0.1Hz","I":3.98,"F":-18},{"freq":"f=0.1Hz","I":4.06,"F":-22},{"freq":"f=0.1Hz","I":4.14,"F":-25},{"freq":"f=0.1Hz","I":4.22,"F":-25},{"freq":"f=0.1Hz","I":4.3,"F":-28},{"freq":"f=0.1Hz","I":4.38,"F":-34},{"freq":"f=0.1Hz","I":4.46,"F":-33},{"freq":"f=0.1Hz","I":4.54,"F":-28},{"freq":"f=0.1Hz","I":4.62,"F":-25},{"freq":"f=0.1Hz","I":4.7,"F":-25},{"freq":"f=0.1Hz","I":4.78,"F":-27},{"freq":"f=0.1Hz","I":4.89,"F":-30},{"freq":"f=0.1Hz","I":4.95,"F":-31},{"freq":"f=0.1Hz","I":5.0,"F":-29},
{"freq":"f=0.5Hz","I":0,"F":15},{"freq":"f=0.5Hz","I":0.07,"F":20},{"freq":"f=0.5Hz","I":0.17,"F":23},{"freq":"f=0.5Hz","I":0.23,"F":23},{"freq":"f=0.5Hz","I":0.31,"F":20},{"freq":"f=0.5Hz","I":0.43,"F":18},{"freq":"f=0.5Hz","I":0.51,"F":19},{"freq":"f=0.5Hz","I":0.62,"F":21},{"freq":"f=0.5Hz","I":0.7,"F":22},{"freq":"f=0.5Hz","I":0.82,"F":20},{"freq":"f=0.5Hz","I":0.94,"F":18},{"freq":"f=0.5Hz","I":1.06,"F":19},{"freq":"f=0.5Hz","I":1.14,"F":20},{"freq":"f=0.5Hz","I":1.22,"F":22},{"freq":"f=0.5Hz","I":1.28,"F":22},{"freq":"f=0.5Hz","I":1.34,"F":19},{"freq":"f=0.5Hz","I":1.42,"F":16},{"freq":"f=0.5Hz","I":1.46,"F":13},{"freq":"f=0.5Hz","I":1.53,"F":15},{"freq":"f=0.5Hz","I":1.61,"F":18},{"freq":"f=0.5Hz","I":1.67,"F":15},{"freq":"f=0.5Hz","I":1.73,"F":11},{"freq":"f=0.5Hz","I":1.81,"F":11},{"freq":"f=0.5Hz","I":1.85,"F":8},{"freq":"f=0.5Hz","I":1.93,"F":3},{"freq":"f=0.5Hz","I":1.97,"F":2},{"freq":"f=0.5Hz","I":2.03,"F":5},{"freq":"f=0.5Hz","I":2.09,"F":6},{"freq":"f=0.5Hz","I":2.17,"F":4},{"freq":"f=0.5Hz","I":2.25,"F":0},{"freq":"f=0.5Hz","I":2.32,"F":-4},{"freq":"f=0.5Hz","I":2.4,"F":-3},{"freq":"f=0.5Hz","I":2.48,"F":-4},{"freq":"f=0.5Hz","I":2.56,"F":-3},{"freq":"f=0.5Hz","I":2.64,"F":-1},{"freq":"f=0.5Hz","I":2.76,"F":-2},{"freq":"f=0.5Hz","I":2.88,"F":-3},{"freq":"f=0.5Hz","I":3.0,"F":-4},{"freq":"f=0.5Hz","I":3.08,"F":-6},{"freq":"f=0.5Hz","I":3.15,"F":-5},{"freq":"f=0.5Hz","I":3.23,"F":-3},{"freq":"f=0.5Hz","I":3.35,"F":-1},{"freq":"f=0.5Hz","I":3.43,"F":-2},{"freq":"f=0.5Hz","I":3.51,"F":-7},{"freq":"f=0.5Hz","I":3.57,"F":-8},{"freq":"f=0.5Hz","I":3.67,"F":-5},{"freq":"f=0.5Hz","I":3.79,"F":0},{"freq":"f=0.5Hz","I":3.87,"F":0},{"freq":"f=0.5Hz","I":3.94,"F":-2},{"freq":"f=0.5Hz","I":4.06,"F":-2},{"freq":"f=0.5Hz","I":4.14,"F":-4},{"freq":"f=0.5Hz","I":4.22,"F":-2},{"freq":"f=0.5Hz","I":4.3,"F":2},{"freq":"f=0.5Hz","I":4.35,"F":2},{"freq":"f=0.5Hz","I":4.42,"F":-4},{"freq":"f=0.5Hz","I":4.46,"F":-7},{"freq":"f=0.5Hz","I":4.54,"F":-6},{"freq":"f=0.5Hz","I":4.62,"F":-9},{"freq":"f=0.5Hz","I":4.7,"F":-5},{"freq":"f=0.5Hz","I":4.76,"F":-3},{"freq":"f=0.5Hz","I":4.82,"F":-7},{"freq":"f=0.5Hz","I":4.89,"F":-13},{"freq":"f=0.5Hz","I":4.95,"F":-14},{"freq":"f=0.5Hz","I":5.0,"F":-10},
{"freq":"f=1Hz","I":0,"F":16},{"freq":"f=1Hz","I":0.09,"F":13},{"freq":"f=1Hz","I":0.19,"F":21},{"freq":"f=1Hz","I":0.27,"F":15},{"freq":"f=1Hz","I":0.35,"F":11},{"freq":"f=1Hz","I":0.43,"F":14},{"freq":"f=1Hz","I":0.47,"F":17},{"freq":"f=1Hz","I":0.55,"F":13},{"freq":"f=1Hz","I":0.6,"F":16},{"freq":"f=1Hz","I":0.64,"F":18},{"freq":"f=1Hz","I":0.7,"F":14},{"freq":"f=1Hz","I":0.76,"F":17},{"freq":"f=1Hz","I":0.82,"F":14},{"freq":"f=1Hz","I":0.9,"F":13},{"freq":"f=1Hz","I":0.98,"F":14},{"freq":"f=1Hz","I":1.04,"F":11},{"freq":"f=1Hz","I":1.1,"F":15},{"freq":"f=1Hz","I":1.16,"F":17},{"freq":"f=1Hz","I":1.22,"F":13},{"freq":"f=1Hz","I":1.3,"F":16},{"freq":"f=1Hz","I":1.38,"F":12},{"freq":"f=1Hz","I":1.43,"F":9},{"freq":"f=1Hz","I":1.49,"F":13},{"freq":"f=1Hz","I":1.55,"F":9},{"freq":"f=1Hz","I":1.61,"F":14},{"freq":"f=1Hz","I":1.67,"F":12},{"freq":"f=1Hz","I":1.77,"F":6},{"freq":"f=1Hz","I":1.81,"F":4},{"freq":"f=1Hz","I":1.87,"F":9},{"freq":"f=1Hz","I":1.93,"F":15},{"freq":"f=1Hz","I":2.0,"F":11},{"freq":"f=1Hz","I":2.07,"F":11},{"freq":"f=1Hz","I":2.15,"F":8},{"freq":"f=1Hz","I":2.25,"F":10},{"freq":"f=1Hz","I":2.32,"F":6},{"freq":"f=1Hz","I":2.4,"F":7},{"freq":"f=1Hz","I":2.46,"F":3},{"freq":"f=1Hz","I":2.52,"F":1},{"freq":"f=1Hz","I":2.58,"F":6},{"freq":"f=1Hz","I":2.62,"F":10},{"freq":"f=1Hz","I":2.66,"F":2},{"freq":"f=1Hz","I":2.7,"F":8},{"freq":"f=1Hz","I":2.76,"F":3},{"freq":"f=1Hz","I":2.84,"F":5},{"freq":"f=1Hz","I":2.9,"F":3},{"freq":"f=1Hz","I":2.96,"F":9},{"freq":"f=1Hz","I":3.04,"F":2},{"freq":"f=1Hz","I":3.11,"F":6},{"freq":"f=1Hz","I":3.15,"F":10},{"freq":"f=1Hz","I":3.19,"F":3},{"freq":"f=1Hz","I":3.23,"F":-3},{"freq":"f=1Hz","I":3.31,"F":2},{"freq":"f=1Hz","I":3.39,"F":9},{"freq":"f=1Hz","I":3.43,"F":6},{"freq":"f=1Hz","I":3.49,"F":1},{"freq":"f=1Hz","I":3.59,"F":4},{"freq":"f=1Hz","I":3.71,"F":5},{"freq":"f=1Hz","I":3.83,"F":12},{"freq":"f=1Hz","I":3.94,"F":11},{"freq":"f=1Hz","I":3.98,"F":9},{"freq":"f=1Hz","I":4.02,"F":6},{"freq":"f=1Hz","I":4.08,"F":11},{"freq":"f=1Hz","I":4.14,"F":5},{"freq":"f=1Hz","I":4.22,"F":12},{"freq":"f=1Hz","I":4.34,"F":12},{"freq":"f=1Hz","I":4.38,"F":5},{"freq":"f=1Hz","I":4.46,"F":10},{"freq":"f=1Hz","I":4.58,"F":9},{"freq":"f=1Hz","I":4.66,"F":9},{"freq":"f=1Hz","I":4.78,"F":12},{"freq":"f=1Hz","I":4.83,"F":12},{"freq":"f=1Hz","I":4.89,"F":8},{"freq":"f=1Hz","I":5.0,"F":4},
{"freq":"f=2Hz","I":0,"F":16},{"freq":"f=2Hz","I":0.12,"F":16},{"freq":"f=2Hz","I":0.23,"F":16},{"freq":"f=2Hz","I":0.39,"F":18},{"freq":"f=2Hz","I":0.51,"F":17},{"freq":"f=2Hz","I":0.6,"F":14},{"freq":"f=2Hz","I":0.7,"F":18},{"freq":"f=2Hz","I":0.76,"F":16},{"freq":"f=2Hz","I":0.82,"F":13},{"freq":"f=2Hz","I":0.86,"F":16},{"freq":"f=2Hz","I":0.94,"F":24},{"freq":"f=2Hz","I":1.0,"F":26},{"freq":"f=2Hz","I":1.06,"F":24},{"freq":"f=2Hz","I":1.18,"F":15},{"freq":"f=2Hz","I":1.24,"F":11},{"freq":"f=2Hz","I":1.34,"F":17},{"freq":"f=2Hz","I":1.4,"F":19},{"freq":"f=2Hz","I":1.49,"F":16},{"freq":"f=2Hz","I":1.57,"F":18},{"freq":"f=2Hz","I":1.67,"F":15},{"freq":"f=2Hz","I":1.77,"F":15},{"freq":"f=2Hz","I":1.89,"F":16},{"freq":"f=2Hz","I":2.0,"F":16},{"freq":"f=2Hz","I":2.13,"F":14},{"freq":"f=2Hz","I":2.2,"F":15},{"freq":"f=2Hz","I":2.26,"F":22},{"freq":"f=2Hz","I":2.31,"F":28},{"freq":"f=2Hz","I":2.37,"F":25},{"freq":"f=2Hz","I":2.47,"F":19},{"freq":"f=2Hz","I":2.56,"F":20},{"freq":"f=2Hz","I":2.68,"F":24.6},{"freq":"f=2Hz","I":2.8,"F":22},{"freq":"f=2Hz","I":2.88,"F":24},{"freq":"f=2Hz","I":2.98,"F":32.8},{"freq":"f=2Hz","I":3.05,"F":32},{"freq":"f=2Hz","I":3.13,"F":31.3},{"freq":"f=2Hz","I":3.23,"F":35},{"freq":"f=2Hz","I":3.29,"F":36},{"freq":"f=2Hz","I":3.35,"F":33},{"freq":"f=2Hz","I":3.43,"F":29.5},{"freq":"f=2Hz","I":3.52,"F":34.3},{"freq":"f=2Hz","I":3.63,"F":41.7},{"freq":"f=2Hz","I":3.72,"F":39},{"freq":"f=2Hz","I":3.82,"F":46.2},{"freq":"f=2Hz","I":3.94,"F":55.9},{"freq":"f=2Hz","I":4.04,"F":57.4},{"freq":"f=2Hz","I":4.18,"F":53.6},{"freq":"f=2Hz","I":4.38,"F":48.4},{"freq":"f=2Hz","I":4.53,"F":56.6},{"freq":"f=2Hz","I":4.67,"F":61.4},{"freq":"f=2Hz","I":4.77,"F":58.1},{"freq":"f=2Hz","I":4.85,"F":49.9},{"freq":"f=2Hz","I":4.93,"F":43.9},{"freq":"f=2Hz","I":5.0,"F":41.7},
{"freq":"f=3Hz","I":0,"F":30},{"freq":"f=3Hz","I":0.05,"F":25},{"freq":"f=3Hz","I":0.11,"F":19},{"freq":"f=3Hz","I":0.18,"F":22},{"freq":"f=3Hz","I":0.25,"F":25},{"freq":"f=3Hz","I":0.33,"F":24},{"freq":"f=3Hz","I":0.43,"F":21},{"freq":"f=3Hz","I":0.49,"F":18},{"freq":"f=3Hz","I":0.55,"F":17},{"freq":"f=3Hz","I":0.6,"F":20},{"freq":"f=3Hz","I":0.66,"F":24},{"freq":"f=3Hz","I":0.72,"F":22},{"freq":"f=3Hz","I":0.78,"F":20},{"freq":"f=3Hz","I":0.86,"F":18},{"freq":"f=3Hz","I":0.94,"F":17},{"freq":"f=3Hz","I":1.02,"F":15},{"freq":"f=3Hz","I":1.06,"F":14},{"freq":"f=3Hz","I":1.12,"F":17},{"freq":"f=3Hz","I":1.18,"F":20},{"freq":"f=3Hz","I":1.26,"F":21},{"freq":"f=3Hz","I":1.34,"F":19},{"freq":"f=3Hz","I":1.4,"F":21},{"freq":"f=3Hz","I":1.45,"F":24},{"freq":"f=3Hz","I":1.51,"F":23},{"freq":"f=3Hz","I":1.59,"F":18},{"freq":"f=3Hz","I":1.65,"F":15},{"freq":"f=3Hz","I":1.69,"F":14},{"freq":"f=3Hz","I":1.77,"F":19},{"freq":"f=3Hz","I":1.85,"F":21},{"freq":"f=3Hz","I":1.91,"F":22},{"freq":"f=3Hz","I":1.99,"F":19},{"freq":"f=3Hz","I":2.05,"F":20},{"freq":"f=3Hz","I":2.12,"F":25.3},{"freq":"f=3Hz","I":2.22,"F":23.8},{"freq":"f=3Hz","I":2.28,"F":26},{"freq":"f=3Hz","I":2.34,"F":29},{"freq":"f=3Hz","I":2.42,"F":27.1},{"freq":"f=3Hz","I":2.48,"F":31},{"freq":"f=3Hz","I":2.56,"F":43.5},{"freq":"f=3Hz","I":2.62,"F":40.2},{"freq":"f=3Hz","I":2.68,"F":31.3},{"freq":"f=3Hz","I":2.76,"F":38.7},{"freq":"f=3Hz","I":2.84,"F":50.7},{"freq":"f=3Hz","I":2.95,"F":55.9},{"freq":"f=3Hz","I":3.07,"F":59.3},{"freq":"f=3Hz","I":3.17,"F":61.9},{"freq":"f=3Hz","I":3.27,"F":59.6},{"freq":"f=3Hz","I":3.35,"F":57.7},{"freq":"f=3Hz","I":3.47,"F":56.3},{"freq":"f=3Hz","I":3.57,"F":54.8},{"freq":"f=3Hz","I":3.66,"F":57.4},{"freq":"f=3Hz","I":3.78,"F":64.1},{"freq":"f=3Hz","I":3.92,"F":71.8},{"freq":"f=3Hz","I":3.98,"F":70},{"freq":"f=3Hz","I":4.08,"F":62.9},{"freq":"f=3Hz","I":4.2,"F":64.4},{"freq":"f=3Hz","I":4.3,"F":61.1},{"freq":"f=3Hz","I":4.4,"F":58.9},{"freq":"f=3Hz","I":4.49,"F":59.6},{"freq":"f=3Hz","I":4.57,"F":58.4},{"freq":"f=3Hz","I":4.67,"F":53.6},{"freq":"f=3Hz","I":4.73,"F":50.7},{"freq":"f=3Hz","I":4.81,"F":54.4},{"freq":"f=3Hz","I":4.91,"F":58.4},{"freq":"f=3Hz","I":4.97,"F":54.4},{"freq":"f=3Hz","I":5.0,"F":45.4}
]
},
"vconcat": [
{"width": 424, "height": 314, "data": {"name": "a"},
 "title": {"text": "(a)", "orient": "left", "anchor": "end", "angle": 0, "align": "right", "baseline": "top", "offset": 56, "dy": 2},
 "mark": "line",
 "encoding": {
  "x": {"field": "I", "type": "quantitative", "title": "I (A)", "scale": {"domain": [0, 5], "nice": false},
        "axis": {"values": [0,0.25,0.5,0.75,1,1.25,1.5,1.75,2,2.25,2.5,2.75,3,3.25,3.5,3.75,4,4.25,4.5,4.75,5], "labelExpr": "datum.value * 4 % 2 === 0 ? format(datum.value, '.1f') : ''", "tickSize": {"condition": {"test": "datum.value * 4 % 2 !== 0", "value": 3}, "value": 5}, "gridOpacity": {"condition": {"test": "datum.value * 4 % 2 !== 0", "value": 0}, "value": 1}, "labelPadding": 3, "titlePadding": 0}},
  "y": {"field": "F", "type": "quantitative", "title": "F\u2099\u1d64 (N)", "scale": {"domain": [-40, 100], "nice": false},
        "axis": {"values": [-40,-35,-30,-25,-20,-15,-10,-5,0,5,10,15,20,25,30,35,40,45,50,55,60,65,70,75,80,85,90,95,100], "labelExpr": "datum.value % 10 === 0 ? datum.label : ''", "tickSize": {"condition": {"test": "datum.value % 10 !== 0", "value": 3}, "value": 5}, "gridOpacity": {"condition": {"test": "datum.value % 10 !== 0", "value": 0}, "value": 1}, "labelPadding": 2, "titlePadding": 3}},
  "color": {"field": "freq", "type": "nominal", "title": null, "scale": {"domain": ["f=0.1Hz","f=0.5Hz","f=1Hz","f=2Hz","f=3Hz"], "range": ["#000000","#ff0000","#0000ff","#ff00ff","#008000"]}}
 }},
{"width": 424, "height": 314, "data": {"name": "b"},
 "title": {"text": "(b)", "orient": "left", "anchor": "end", "angle": 0, "align": "right", "baseline": "top", "offset": 56, "dy": 2},
 "mark": "line",
 "encoding": {
  "x": {"field": "I", "type": "quantitative", "title": "I (A)", "scale": {"domain": [0, 5], "nice": false},
        "axis": {"values": [0,0.25,0.5,0.75,1,1.25,1.5,1.75,2,2.25,2.5,2.75,3,3.25,3.5,3.75,4,4.25,4.5,4.75,5], "labelExpr": "datum.value * 4 % 2 === 0 ? format(datum.value, '.1f') : ''", "tickSize": {"condition": {"test": "datum.value * 4 % 2 !== 0", "value": 3}, "value": 5}, "gridOpacity": {"condition": {"test": "datum.value * 4 % 2 !== 0", "value": 0}, "value": 1}, "labelPadding": 3, "titlePadding": 0}},
  "y": {"field": "F", "type": "quantitative", "title": "F\u2099\u1d64 (N)", "scale": {"domain": [-40, 100], "nice": false},
        "axis": {"values": [-40,-35,-30,-25,-20,-15,-10,-5,0,5,10,15,20,25,30,35,40,45,50,55,60,65,70,75,80,85,90,95,100], "labelExpr": "datum.value % 10 === 0 ? datum.label : ''", "tickSize": {"condition": {"test": "datum.value % 10 !== 0", "value": 3}, "value": 5}, "gridOpacity": {"condition": {"test": "datum.value % 10 !== 0", "value": 0}, "value": 1}, "labelPadding": 2, "titlePadding": 3}},
  "color": {"field": "freq", "type": "nominal", "title": null, "scale": {"domain": ["f=0.1Hz","f=0.5Hz","f=1Hz","f=2Hz","f=3Hz"], "range": ["#000000","#ff0000","#0000ff","#ff00ff","#008000"]}}
 }},
{"width": 424, "height": 314, "data": {"name": "c"},
 "title": {"text": "(c)", "orient": "left", "anchor": "end", "angle": 0, "align": "right", "baseline": "top", "offset": 56, "dy": 2},
 "mark": "line",
 "encoding": {
  "x": {"field": "I", "type": "quantitative", "title": "I (A)", "scale": {"domain": [0, 5], "nice": false},
        "axis": {"values": [0,0.25,0.5,0.75,1,1.25,1.5,1.75,2,2.25,2.5,2.75,3,3.25,3.5,3.75,4,4.25,4.5,4.75,5], "labelExpr": "datum.value * 4 % 2 === 0 ? format(datum.value, '.1f') : ''", "tickSize": {"condition": {"test": "datum.value * 4 % 2 !== 0", "value": 3}, "value": 5}, "gridOpacity": {"condition": {"test": "datum.value * 4 % 2 !== 0", "value": 0}, "value": 1}, "labelPadding": 3, "titlePadding": 0}},
  "y": {"field": "F", "type": "quantitative", "title": "F\u2099\u1d64 (N)", "scale": {"domain": [-40, 100], "nice": false},
        "axis": {"values": [-40,-35,-30,-25,-20,-15,-10,-5,0,5,10,15,20,25,30,35,40,45,50,55,60,65,70,75,80,85,90,95,100], "labelExpr": "datum.value % 10 === 0 ? datum.label : ''", "tickSize": {"condition": {"test": "datum.value % 10 !== 0", "value": 3}, "value": 5}, "gridOpacity": {"condition": {"test": "datum.value % 10 !== 0", "value": 0}, "value": 1}, "labelPadding": 2, "titlePadding": 3}},
  "color": {"field": "freq", "type": "nominal", "title": null, "scale": {"domain": ["f=0.1Hz","f=0.5Hz","f=1Hz","f=2Hz","f=3Hz"], "range": ["#000000","#ff0000","#0000ff","#ff00ff","#008000"]}}
 }}
]
}
